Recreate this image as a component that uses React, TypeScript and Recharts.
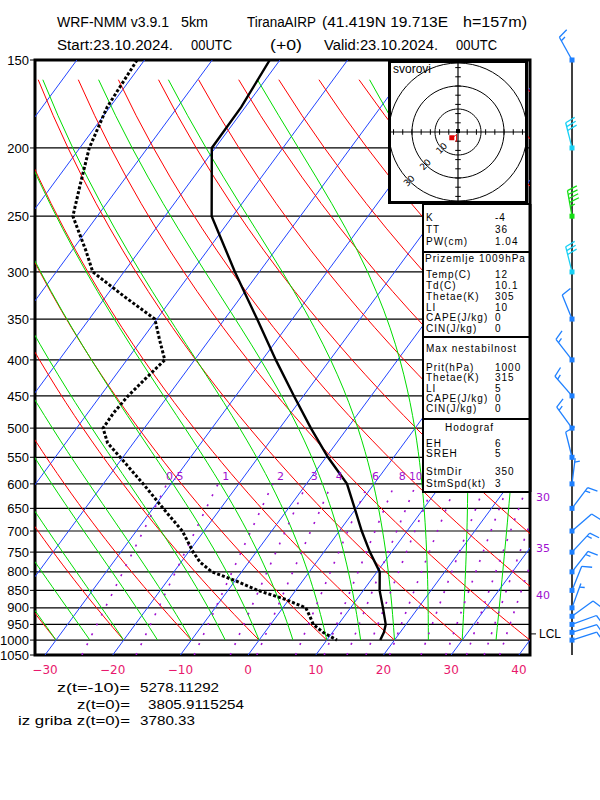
import React from 'react';
import {
  ComposedChart,
  Line,
  Scatter,
  XAxis,
  YAxis,
  CartesianGrid,
  ReferenceArea,
  ReferenceDot,
  ReferenceLine,
} from 'recharts';

// ---- sounding ----
const tempP = [150, 175, 200, 250, 300, 350, 400, 450, 500, 550, 600, 650, 700, 750, 800, 850, 900, 950, 975, 1000];
const tempC = [-61.5, -60.6, -60.5, -53.1, -43.6, -35.2, -28.0, -21.4, -15.4, -9.7, -4.0, -0.2, 3.3, 6.8, 10.4, 12.4, 14.8, 17.0, 17.6, 17.9];

const dewP = [150, 175, 200, 225, 250, 280, 300, 325, 350, 375, 400, 425, 450, 475, 500, 525, 550, 600, 650, 700, 750, 775, 800, 825, 850, 875, 900, 925, 950, 975, 1000];
const dewC = [-81.1, -80.4, -78.6, -76.0, -73.6, -67.9, -64.6, -57.3, -50.3, -47.3, -44.4, -45.2, -45.9, -46.2, -46.1, -43.8, -40.4, -34.1, -28.5, -23.2, -19.3, -17.2, -14.4, -9.7, -5.6, -0.6, 3.4, 4.9, 6.3, 8.6, 11.5];

const windP = [150, 200, 250, 300, 350, 400, 450, 500, 550, 600, 650, 700, 750, 800, 850, 900, 925, 950, 975, 1000];
const windDir = [331, 346, 350, 346, 338, 322, 319, 324, 346, 7, 37, 49, 43, 38, 22, 20, 54, 70, 73, 72];
const windKt = [15, 30, 45, 30, 10, 15, 15, 15, 10, 5, 15, 10, 15, 15, 10, 5, 10, 10, 10, 10];

const lclP = 980;

// ---- diagram background ----
const pressureTicks = [150, 200, 250, 300, 350, 400, 450, 500, 550, 600, 650, 700, 750, 800, 850, 900, 950, 1000, 1050];
const tempTicks = [-30, -20, -10, 0, 10, 20, 30, 40];
const isotherms = [-90, -80, -70, -60, -50, -40, -30, -20, -10, 0, 10, 20, 30, 40];
const dryAdiabats = [-30, -20, -10, 0, 10, 20, 30, 40, 50, 60, 70, 80, 90, 100, 110, 120, 130, 140, 150];
const moistAdiabats = [-30, -25, -20, -15, -10, -5, 0, 5, 10, 15, 20, 25, 30, 35];
const mixingRatios = [0.5, 1, 2, 3, 4, 6, 8, 10, 12, 15, 20, 25, 30, 35, 40];
const mixingTopLabels = [0.5, 1, 2, 3, 4, 6, 8, 10];
const mixingSideLabels = [30, 35, 40];
const mixingSideLabelP = [626, 740, 863];

// ---- hodograph ----
const hodoRings = [10, 20, 30];
const hodoTicks = [-28, -24, -20, -16, -12, -8, -4, 4, 8, 12, 16, 20, 24, 28];
const hodoU = [-2.7, -1.2, -0.6, -0.6, -1.2];
const hodoV = [-2.5, -1.6, -1.0, -4.0, -4.0];
const stormU = 0;
const stormV = 0.4;

const FONT = 'DejaVu Sans';
const LFONT = 'Liberation Sans';
const BLUE = '#2244ff';
const RED = '#ff0000';
const GREEN = '#00dd00';
const PURPLE = '#a010d0';
const PINK = '#e8186c';

const SKEW = 33.25;
const P_REF = 1050;
const X_MIN = -31.48;
const X_MAX = 41.64;
const Y_TOP = Math.log(150);
const Y_BOTTOM = Math.log(1050);

const skewX = (t: number, p: number) => t + SKEW * Math.log(P_REF / p);
const pt = (t: number, p: number) => ({ x: skewX(t, p), y: Math.log(p) });

const levelsDown = (from: number, to: number, step: number) => {
  const out: number[] = [];
  for (let p = from; p >= to - 1e-6; p -= step) out.push(p);
  return out;
};

const dewFromMix = (w: number, p: number) => {
  const e = (w * p) / (622 + w);
  const l = Math.log(e / 6.112);
  return (243.5 * l) / (17.67 - l);
};

const satMix = (T: number, p: number) => {
  const es = 6.112 * Math.exp((17.67 * (T - 273.15)) / (T - 29.65));
  return (0.622 * es) / (p - es);
};

const moistLapse = (T: number, p: number) => {
  const rs = satMix(T, p);
  const Rd = 287.04, cp = 1005.7, Lv = 2.501e6, eps = 0.622;
  return (Rd * T + Lv * rs) / (p * (cp + (Lv * Lv * rs * eps) / (Rd * T * T)));
};

const moistCurve = (tw: number) => {
  const pts = [pt(tw, 1000)];
  let T = tw + 273.15;
  let p = 1000;
  const dp = -2.5;
  let n = 0;
  while (p > 150 + 1e-6) {
    const k1 = moistLapse(T, p);
    const k2 = moistLapse(T + (k1 * dp) / 2, p + dp / 2);
    T += k2 * dp;
    p += dp;
    n++;
    if (n % 8 === 0) pts.push(pt(T - 273.15, p));
  }
  return pts;
};

const isothermLines = isotherms.map((t) => [pt(t, 1050), pt(t, 150)]);
const dryLines = dryAdiabats.map((th) =>
  levelsDown(1000, 150, 20).map((p) => pt((th + 273.15) * Math.pow(p / 1000, 0.2857) - 273.15, p))
);
const moistLines = moistAdiabats.map((tw) => moistCurve(tw));
const mixLines = mixingRatios.map((w) => levelsDown(1050, 600, 25).map((p) => pt(dewFromMix(w, p), p)));

const tempData = tempP.map((p, i) => pt(tempC[i], p));
const dewData = dewP.map((p, i) => pt(dewC[i], p));
const windData = windP.map((p, i) => ({ x: 0, y: Math.log(p), dir: windDir[i], spd: windKt[i] }));

const circle = (r: number) => {
  const out: { u: number; v: number }[] = [];
  for (let a = 0; a <= 360; a += 6) {
    out.push({ u: r * Math.cos((a * Math.PI) / 180), v: r * Math.sin((a * Math.PI) / 180) });
  }
  return out;
};
const hodoTrace = hodoU.map((u, i) => ({ u, v: hodoV[i] }));

const barbColor = (s: number) => (s >= 40 ? '#14e014' : s >= 25 ? '#18d0f4' : '#1e80ff');

const renderBarb = (props: any) => {
  const { cx, cy, payload } = props;
  if (cx == null || cy == null) return <g />;
  const a = (payload.dir * Math.PI) / 180;
  const ux = Math.sin(a);
  const uy = -Math.cos(a);
  const nx = -uy;
  const ny = ux;
  const L = 26;
  const c = barbColor(payload.spd);
  const tx = cx + ux * L;
  const ty = cy + uy * L;
  const parts: React.ReactNode[] = [
    <line key="staff" x1={cx} y1={cy} x2={tx} y2={ty} stroke={c} strokeWidth={1.3} />,
  ];
  let s = Math.round(payload.spd / 5) * 5;
  let d = 0;
  let k = 0;
  while (s >= 50) {
    const bx = tx - ux * d, by = ty - uy * d;
    parts.push(
      <polygon key={'p' + k++} points={`${bx},${by} ${bx + nx * 10},${by + ny * 10} ${bx - ux * 5},${by - uy * 5}`} fill={c} />
    );
    s -= 50;
    d += 7;
  }
  while (s >= 10) {
    const bx = tx - ux * d, by = ty - uy * d;
    parts.push(
      <line key={'f' + k++} x1={bx} y1={by} x2={bx + nx * 10 + ux * 3} y2={by + ny * 10 + uy * 3} stroke={c} strokeWidth={1.3} />
    );
    s -= 10;
    d += 4;
  }
  if (s >= 5) {
    if (d === 0) d = 4;
    const bx = tx - ux * d, by = ty - uy * d;
    parts.push(
      <line key={'h' + k++} x1={bx} y1={by} x2={bx + nx * 5 + ux * 1.5} y2={by + ny * 5 + uy * 1.5} stroke={c} strokeWidth={1.3} />
    );
  }
  parts.push(<rect key="dot" x={cx - 2.5} y={cy - 2.5} width={5} height={5} fill={c} />);
  return <g>{parts}</g>;
};

const tableRows: { label: string; value: string; y: number }[] = [
  { label: 'K', value: '-4', y: 221 },
  { label: 'TT', value: '36', y: 233 },
  { label: 'PW(cm)', value: '1.04', y: 245 },
  { label: 'Temp(C)', value: '12', y: 278 },
  { label: 'Td(C)', value: '10.1', y: 289 },
  { label: 'Thetae(K)', value: '305', y: 300 },
  { label: 'LI', value: '10', y: 311 },
  { label: 'CAPE(J/kg)', value: '0', y: 321 },
  { label: 'CIN(J/kg)', value: '0', y: 332 },
  { label: 'Prit(hPa)', value: '1000', y: 371 },
  { label: 'Thetae(K)', value: '315', y: 381 },
  { label: 'LI', value: '5', y: 392 },
  { label: 'CAPE(J/kg)', value: '0', y: 402 },
  { label: 'CIN(J/kg)', value: '0', y: 412 },
  { label: 'EH', value: '6', y: 447 },
  { label: 'SREH', value: '5', y: 457 },
  { label: 'StmDir', value: '350', y: 475 },
  { label: 'StmSpd(kt)', value: '3', y: 487 },
];

const headerTexts: { text: string; x: number; y: number; w: number }[] = [
  { text: 'WRF-NMM v3.9.1', x: 57, y: 27, w: 112 },
  { text: '5km', x: 181, y: 27, w: 27 },
  { text: 'TiranaAIRP', x: 247, y: 27, w: 69 },
  { text: '(41.419N 19.713E', x: 322, y: 27, w: 126 },
  { text: 'h=157m)', x: 463, y: 27, w: 64 },
  { text: 'Start:23.10.2024.', x: 57, y: 50, w: 116 },
  { text: '00UTC', x: 191, y: 50, w: 41 },
  { text: '(+0)', x: 270, y: 50, w: 32 },
  { text: 'Valid:23.10.2024.', x: 324, y: 50, w: 114 },
  { text: '00UTC', x: 456, y: 50, w: 41 },
  { text: 'z(t=-10)=', x: 57, y: 692, w: 73 },
  { text: '5278.11292', x: 140, y: 692, w: 79 },
  { text: 'z(t=0)=', x: 77, y: 709, w: 53 },
  { text: '3805.9115254', x: 148, y: 709, w: 96 },
  { text: 'iz griba z(t=0)=', x: 18, y: 725, w: 112 },
  { text: '3780.33', x: 140, y: 725, w: 55 },
];

const App = () => {
  return (
    <div style={{ position: 'absolute', left: 0, top: 0, width: 600, height: 800, background: '#fff' }}>
      <ComposedChart width={600} height={800} margin={{ top: 60, right: 70, bottom: 115, left: 0 }}>
        <CartesianGrid vertical={false} stroke="#000" strokeWidth={1.2} />
        <XAxis
          type="number"
          dataKey="x"
          domain={[X_MIN, X_MAX]}
          allowDataOverflow
          ticks={tempTicks}
          interval={0}
          tickLine={false}
          axisLine={false}
          height={30}
          tickMargin={4}
          tickFormatter={(v: number) => String(v).replace('-', '\u2212')}
          tick={{ fill: PINK, fontSize: 12, fontFamily: FONT }}
        />
        <YAxis
          type="number"
          dataKey="y"
          domain={[Y_TOP, Y_BOTTOM]}
          reversed
          allowDataOverflow
          ticks={pressureTicks.map((p) => Math.log(p))}
          interval={0}
          width={35}
          tickSize={5}
          tickMargin={1}
          axisLine={false}
          tickLine={{ stroke: '#000' }}
          tickFormatter={(v: number) => String(Math.round(Math.exp(v)))}
          tick={{ fill: '#000', fontSize: 13, fontFamily: LFONT }}
        />
        {isothermLines.map((d, i) => (
          <Line key={'iso' + i} data={d} dataKey="y" stroke={BLUE} strokeWidth={1} dot={false} activeDot={false} isAnimationActive={false} />
        ))}
        {dryLines.map((d, i) => (
          <Line key={'dry' + i} data={d} dataKey="y" stroke={RED} strokeWidth={1} dot={false} activeDot={false} isAnimationActive={false} />
        ))}
        {moistLines.map((d, i) => (
          <Line key={'moist' + i} data={d} dataKey="y" stroke={GREEN} strokeWidth={1} dot={false} activeDot={false} isAnimationActive={false} />
        ))}
        {mixLines.map((d, i) => (
          <Line key={'mix' + i} data={d} dataKey="y" stroke={PURPLE} strokeWidth={1.6} strokeDasharray="2 9" dot={false} activeDot={false} isAnimationActive={false} />
        ))}
        <Line data={dewData} dataKey="y" stroke="#000" strokeWidth={3} strokeDasharray="3 2" dot={false} activeDot={false} isAnimationActive={false} />
        <Line data={tempData} dataKey="y" stroke="#000" strokeWidth={2.4} dot={false} activeDot={false} isAnimationActive={false} />
        {mixingTopLabels.map((w) => (
          <ReferenceDot
            key={'ml' + w}
            x={skewX(dewFromMix(w, 585), 585)}
            y={Math.log(585)}
            r={0}
            ifOverflow="visible"
            shape={(p: any) => {
              const nearTable = p.cx + 4 > 412;
              return (
                <text
                  x={nearTable ? 422 : p.cx + 4}
                  y={p.cy + 4}
                  textAnchor={nearTable ? 'end' : 'middle'}
                  fill={PURPLE}
                  fontSize={nearTable ? 10 : 11}
                  fontFamily={FONT}
                >
                  {String(w)}
                </text>
              );
            }}
          />
        ))}
        {mixingSideLabels.map((w, i) => (
          <ReferenceDot
            key={'ms' + w}
            x={X_MAX}
            y={Math.log(mixingSideLabelP[i])}
            r={0}
            ifOverflow="visible"
            shape={(p: any) => (
              <text x={p.cx + 13} y={p.cy + 4} textAnchor="middle" fill={PURPLE} fontSize={11} fontFamily={FONT}>
                {String(w)}
              </text>
            )}
          />
        ))}
        <ReferenceDot
          x={X_MAX}
          y={Math.log(lclP)}
          r={0}
          ifOverflow="visible"
          shape={(p: any) => (
            <g>
              <line x1={p.cx + 1} y1={p.cy} x2={p.cx + 6} y2={p.cy} stroke="#000" strokeWidth={1} />
              <text x={p.cx + 9} y={p.cy + 4} fill="#000" fontSize={12} fontFamily={LFONT}>
                LCL
              </text>
            </g>
          )}
        />
        <ReferenceArea
          x1={X_MIN}
          x2={X_MAX}
          y1={Y_TOP}
          y2={Y_BOTTOM}
          fill="none"
          stroke="#000"
          strokeWidth={3}
          ifOverflow="visible"
        />
      </ComposedChart>

      <svg width={600} height={800} style={{ position: 'absolute', left: 0, top: 0 }}>
        <g fontFamily={LFONT} fill="#000">
          {headerTexts.map((t, i) => (
            <text key={'ht' + i} x={t.x} y={t.y} fontSize={t.y < 100 ? 14 : 13} textLength={t.w} lengthAdjust="spacingAndGlyphs">
              {t.text}
            </text>
          ))}
        </g>

        <rect x={423} y={204} width={107} height={288} fill="#fff" stroke="#000" strokeWidth={2} />
        <line x1={423} y1={252} x2={530} y2={252} stroke="#000" strokeWidth={2} />
        <line x1={423} y1={337} x2={530} y2={337} stroke="#000" strokeWidth={2} />
        <line x1={423} y1={419} x2={530} y2={419} stroke="#000" strokeWidth={2} />
        <line x1={530} y1={204} x2={530} y2={492} stroke="#000" strokeWidth={3} />
        <g fontFamily={LFONT} fontSize={10} letterSpacing={1} fill="#000">
          <text x={425} y={262}>Prizemlje 1009hPa</text>
          <text x={426} y={352}>Max nestabilnost</text>
          <text x={445} y={431}>Hodograf</text>
          {tableRows.map((r, i) => (
            <g key={'tr' + i}>
              <text x={426} y={r.y}>{r.label}</text>
              <text x={495} y={r.y}>{r.value}</text>
            </g>
          ))}
        </g>
      </svg>

      <div
        style={{
          position: 'absolute',
          left: 388,
          top: 60,
          width: 140,
          height: 144,
          border: '3px solid #000',
          boxSizing: 'border-box',
          background: '#fff',
        }}
      >
        <ComposedChart width={134} height={138} margin={{ top: 0, right: 0, bottom: 0, left: 0 }}>
          <XAxis type="number" dataKey="u" domain={[-29.1, 29.1]} allowDataOverflow hide />
          <YAxis type="number" dataKey="v" domain={[-30, 30]} allowDataOverflow hide />
          {hodoRings.map((r) => (
            <Line key={'ring' + r} data={circle(r)} dataKey="v" stroke="#000" strokeWidth={1} dot={false} activeDot={false} isAnimationActive={false} />
          ))}
          <ReferenceLine x={0} stroke="#000" strokeWidth={1.2} />
          <ReferenceLine y={0} stroke="#000" strokeWidth={1.2} />
          {hodoTicks.map((t) => (
            <ReferenceLine key={'tx' + t} segment={[{ x: t, y: -1.2 }, { x: t, y: 1.2 }]} stroke="#000" strokeWidth={1} />
          ))}
          {hodoTicks.map((t) => (
            <ReferenceLine key={'ty' + t} segment={[{ x: -1.2, y: t }, { x: 1.2, y: t }]} stroke="#000" strokeWidth={1} />
          ))}
          {hodoRings.map((r) => (
            <ReferenceDot
              key={'rl' + r}
              x={-r * 0.7071}
              y={-r * 0.7071}
              r={0}
              ifOverflow="visible"
              shape={(p: any) => (
                <text
                  x={p.cx}
                  y={p.cy + 3}
                  textAnchor="middle"
                  fontSize={9}
                  fontFamily={FONT}
                  fill="#000"
                  transform={`rotate(-45 ${p.cx} ${p.cy})`}
                >
                  {String(r)}
                </text>
              )}
            />
          ))}
          <Line data={hodoTrace} dataKey="v" stroke="#e00000" strokeWidth={1} dot={false} activeDot={false} isAnimationActive={false} />
          <Scatter
            data={[hodoTrace[0]]}
            isAnimationActive={false}
            shape={(p: any) => <rect x={p.cx - 2.5} y={p.cy - 2.5} width={5} height={5} fill="#e00000" />}
          />
          <Scatter
            data={[{ u: stormU, v: stormV }]}
            isAnimationActive={false}
            shape={(p: any) => <rect x={p.cx - 2} y={p.cy - 2} width={4} height={4} fill="#000" />}
          />
        </ComposedChart>
        <span
          style={{
            position: 'absolute',
            left: 2,
            top: -1,
            fontFamily: LFONT,
            fontSize: 12,
            lineHeight: '14px',
            color: '#000',
          }}
        >
          svorovi
        </span>
      </div>

      <div style={{ position: 'absolute', left: 542, top: 0 }}>
        <ComposedChart width={60} height={800} margin={{ top: 60, right: 0, bottom: 145, left: 0 }}>
          <XAxis type="number" dataKey="x" domain={[-1, 1]} hide />
          <YAxis type="number" dataKey="y" domain={[Y_TOP, Y_BOTTOM]} reversed hide />
          <ReferenceLine x={0} stroke="#000" strokeWidth={1.5} />
          <Scatter data={windData} shape={renderBarb} isAnimationActive={false} />
        </ComposedChart>
      </div>
    </div>
  );
};

export default App;
